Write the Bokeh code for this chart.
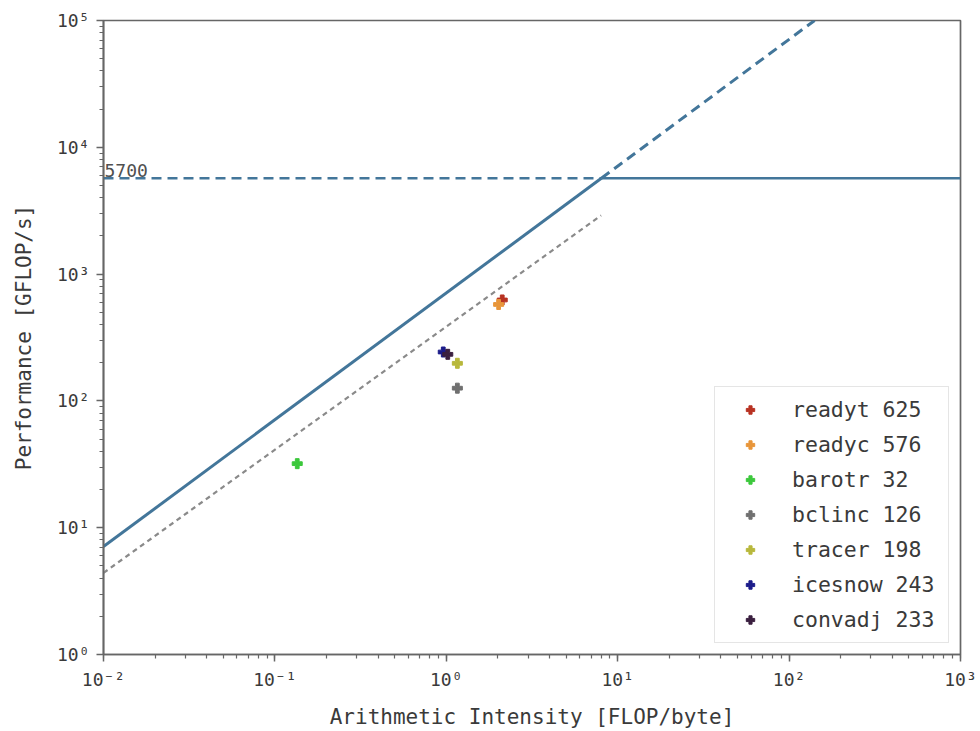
from bokeh.plotting import figure
from bokeh.models import CustomJSTickFormatter, Legend, LegendItem, Label
from bokeh.embed import file_html
from bokeh.resources import INLINE

# ---- data ----
kernels = ["readyt", "readyc", "barotr", "bclinc", "tracer", "icesnow", "convadj"]
labels = ["readyt 625", "readyc 576", "barotr 32", "bclinc 126", "tracer 198", "icesnow 243", "convadj 233"]
intensity = [2.12, 2.02, 0.135, 1.16, 1.16, 0.96, 1.02]      # FLOP/byte
performance = [625, 576, 32, 126, 198, 243, 233]           # GFLOP/s
colors = ["#b83222", "#e8963a", "#3cc83c", "#707070", "#b8b83c", "#1c1c8a", "#3a1f3f"]

peak_gflops = 5700          # compute roof
peak_label = "5700"
bandwidth = 710             # GB/s memory roof
fit_ai = [0.01, 8.0]        # gray dashed reference line
fit_perf = [4.4, 2900]

x_lo, x_hi = 0.01, 1000
y_lo, y_hi = 1, 1e5

ridge = peak_gflops / bandwidth
top_ai = y_hi / bandwidth

FONT = "DejaVu Sans Mono"
BLUE = "#43769a"

p = figure(width=980, height=731, x_axis_type="log", y_axis_type="log",
           x_range=(x_lo, x_hi), y_range=(y_lo, y_hi),
           output_backend="svg", toolbar_location=None,
           min_border_left=103, min_border_right=20, min_border_top=20, min_border_bottom=76)
p.grid.visible = False
p.outline_line_color = "#666666"
p.outline_line_width = 1.7
p.background_fill_color = "white"
p.border_fill_color = "white"

# memory roof (solid) and its continuation (dashed)
p.line([x_lo, ridge], [bandwidth * x_lo, peak_gflops], line_color=BLUE, line_width=3)
p.line([ridge, top_ai], [peak_gflops, y_hi], line_color=BLUE, line_width=3, line_dash="10 6")
# compute roof: dashed left of ridge, solid right of it
p.line([x_lo, ridge], [peak_gflops, peak_gflops], line_color=BLUE, line_width=2.6, line_dash="10 6")
p.line([ridge, x_hi], [peak_gflops, peak_gflops], line_color=BLUE, line_width=2.6)
# gray dashed reference line
p.line(fit_ai, fit_perf, line_color="#8a8a8a", line_width=2.2, line_dash="5 4")

p.add_layout(Label(x=x_lo, y=peak_gflops, text=peak_label, x_offset=1, y_offset=1,
                   text_font=FONT, text_font_size="18px", text_color="#505050"))

items = []
for k, lab, xv, yv, c in zip(kernels, labels, intensity, performance, colors):
    r = p.scatter([xv], [yv], marker="plus", size=10, fill_color=c, line_color=c)
    items.append(LegendItem(label=lab, renderers=[r]))

legend = Legend(items=items, location="bottom_right",
                label_text_font=FONT, label_text_font_size="21.5px", label_text_color="#3a3a3a",
                glyph_width=50, glyph_height=21, label_height=21, label_width=146,
                label_standoff=17, spacing=10, padding=10, margin=11,
                border_line_color="#cccccc", border_line_width=1.5,
                background_fill_color="white", background_fill_alpha=0.85)
p.add_layout(legend)

fmt = CustomJSTickFormatter(code="""
const sup = {"-":"\u207b","0":"\u2070","1":"\u00b9","2":"\u00b2","3":"\u00b3","4":"\u2074","5":"\u2075","6":"\u2076","7":"\u2077","8":"\u2078","9":"\u2079"};
const e = Math.round(Math.log10(tick));
return "10" + String(e).split("").map(c => sup[c]).join("");
""")

for ax in (p.xaxis[0], p.yaxis[0]):
    ax.formatter = fmt
    ax.axis_line_color = "#666666"
    ax.axis_line_width = 1.7
    ax.major_tick_line_color = "#666666"
    ax.minor_tick_line_color = "#666666"
    ax.major_tick_line_width = 1.5
    ax.minor_tick_line_width = 1.2
    ax.major_tick_out = 7
    ax.major_tick_in = 0
    ax.minor_tick_out = 4
    ax.minor_tick_in = 0
    ax.major_label_text_font = FONT
    ax.major_label_text_font_size = "18px"
    ax.major_label_text_color = "#3a3a3a"
    ax.major_label_standoff = 7
    ax.axis_label_text_font = FONT
    ax.axis_label_text_font_size = "21px"
    ax.axis_label_text_font_style = "normal"
    ax.axis_label_text_color = "#3a3a3a"

p.xaxis.axis_label = "Arithmetic Intensity [FLOP/byte]"
p.yaxis.axis_label = "Performance [GFLOP/s]"
p.xaxis.axis_label_standoff = 12
p.yaxis.axis_label_standoff = 18
p.yaxis.major_label_orientation = "horizontal"

open("out.html", "w").write(file_html(p, INLINE))
